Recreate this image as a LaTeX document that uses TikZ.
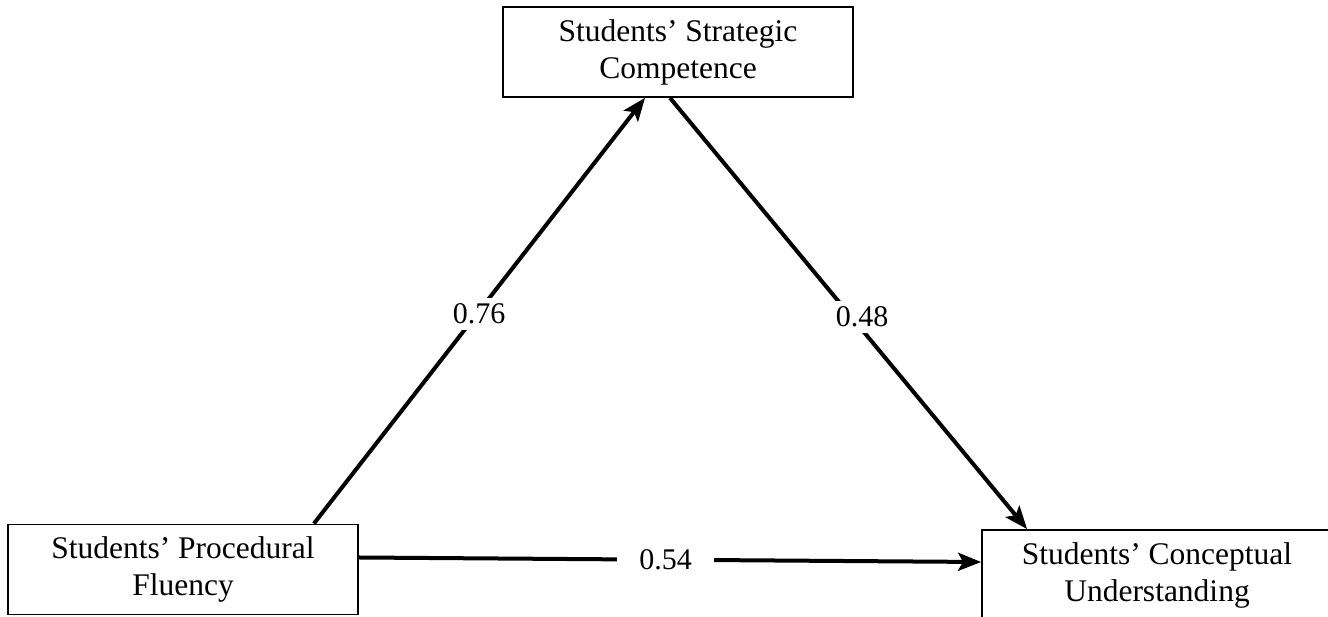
\documentclass[tikz,border=0pt]{standalone}
\usepackage{fontspec}
\setmainfont{Liberation Serif}
\usetikzlibrary{arrows.meta,calc}
\begin{document}
\begin{tikzpicture}[x=1pt,y=1pt,
  box/.style={draw=black,line width=1.8pt,minimum width=350pt,minimum height=90pt,
    align=center,inner sep=0pt,font=\fontsize{31.5}{37}\selectfont},
  conn/.style={line width=4pt,-{Stealth[length=23pt,width=18pt,inset=5pt]}},
  lbl/.style={fill=white,inner sep=6pt,font=\fontsize{30}{36}\selectfont}]
\useasboundingbox (0,0) rectangle (1328,617);
\node[box,yshift=-2pt] (top) at (678,567) {Students’ Strategic\\Competence};
\node[box] (left) at (183,47.5) {Students’ Procedural\\Fluency};
\node[box] (right) at (1157,42) {Students’ Conceptual\\Understanding};
\draw[conn] ($(left.north east)+(-45,0)$) -- ($(top.south)+(-33,0)$);
\draw[conn] ($(top.south)+(-8,0)$) -- ($(right.north west)+(46,0)$);
\draw[conn] ($(left.east)+(0,12)$) -- ($(right.west)+(0,13)$);
\node[lbl] (l76) at (479,303) {0.76};
\node[lbl] (l48) at (862,300) {0.48};
\node[lbl,inner xsep=22pt] (l54) at (665.5,57) {0.54};
\end{tikzpicture}
\end{document}
